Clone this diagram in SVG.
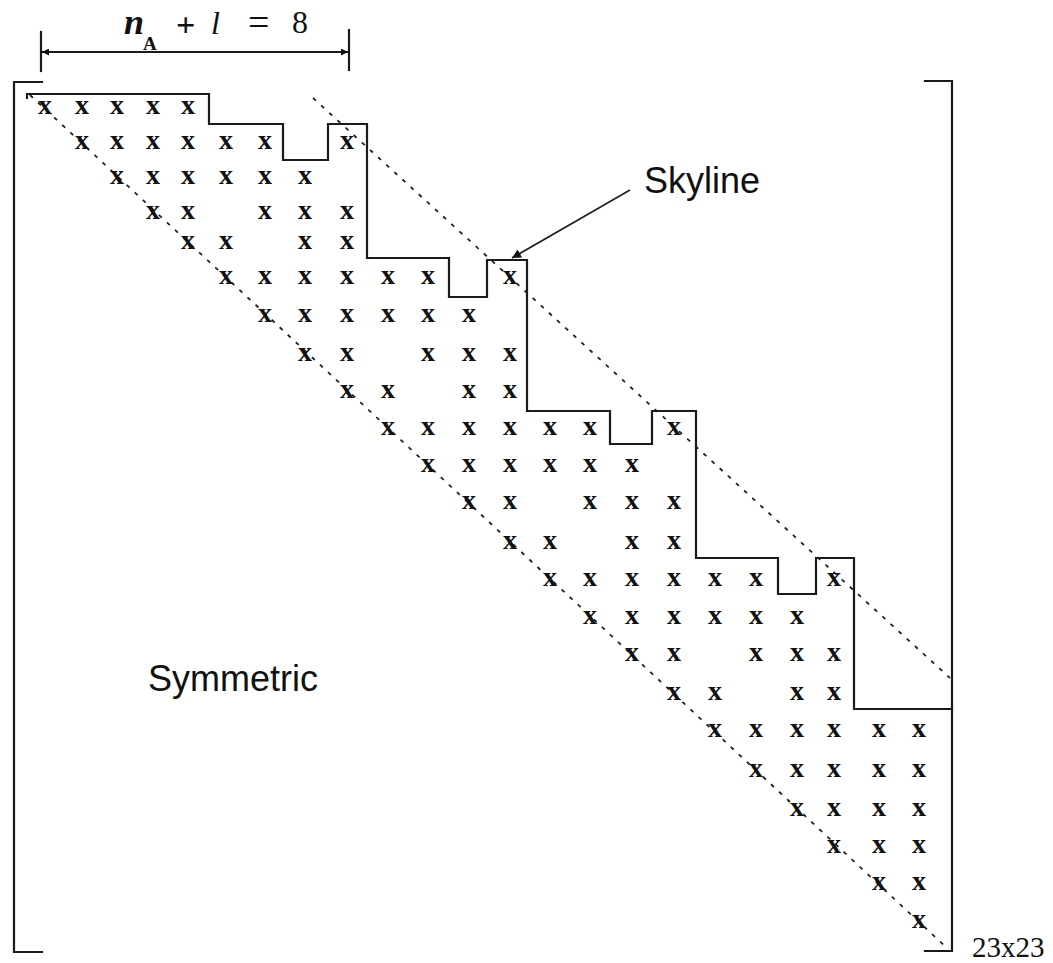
<svg xmlns="http://www.w3.org/2000/svg" width="1053" height="963" viewBox="0 0 1053 963">
<style>
.ln{fill:none;stroke:#1a1a1a;stroke-width:2.2;stroke-linecap:square}
.dash{fill:none;stroke:#222;stroke-width:1.8;stroke-dasharray:4 7}
.x{font-family:"Liberation Serif",serif;font-weight:bold;font-size:28px;fill:#111;text-anchor:middle}
.sans{font-family:"Liberation Sans",Arial,sans-serif;font-size:36px;fill:#111}
.ser{font-family:"Liberation Serif",serif;fill:#111}
</style>
<defs>
<marker id="ah" viewBox="0 0 10 10" refX="10" refY="5" markerWidth="8" markerHeight="7" orient="auto-start-reverse" markerUnits="userSpaceOnUse">
<path d="M0,0 L10,5 L0,10 z" fill="#111"/>
</marker>
<marker id="ah2" viewBox="0 0 10 10" refX="10" refY="5" markerWidth="12" markerHeight="9" orient="auto" markerUnits="userSpaceOnUse">
<path d="M0,0 L10,5 L0,10 z" fill="#111"/>
</marker>
</defs>
<rect width="1053" height="963" fill="#fff"/>
<g id="dimension">
<line class="ln" x1="41" y1="32" x2="41" y2="71"/>
<line class="ln" x1="349" y1="30" x2="349" y2="70"/>
<line class="ln" x1="42" y1="52" x2="348" y2="52" marker-start="url(#ah)" marker-end="url(#ah)"/>
<text class="ser" x="124" y="34" style="font-size:36px;font-style:italic;font-weight:bold">n</text>
<text class="ser" x="143" y="50" style="font-size:19px;font-weight:bold">A</text>
<text class="ser" x="176" y="36" style="font-size:34px;font-weight:bold">+</text>
<text class="ser" x="211" y="34" style="font-size:32px;font-style:italic">l</text>
<text class="ser" x="248" y="35" style="font-size:38px">=</text>
<text class="ser" x="292" y="33" style="font-size:32px">8</text>
</g>
<g id="brackets">
<path class="ln" d="M42,82 L14,82 L14,952 L42,952"/>
<path class="ln" d="M925,81 L952,81 L952,951 L925,951"/>
</g>
<g id="diagonals">
<line class="dash" x1="30" y1="95" x2="947" y2="948"/>
<line class="dash" x1="313" y1="98" x2="950" y2="678"/>
</g>
<g id="skyline">
<path class="ln" d="M27,98 L27,94 L209,94 L209,124 L283,124 L283,160 L328,160 L328,124 L367,124 L367,258 L449,258 L449,297 L487,297 L487,260 L527,260 L527,411 L610,411 L610,444 L652,444 L652,411 L696,411 L696,558 L778,558 L778,594 L816,594 L816,558 L854,558 L854,709 L952,709"/>
</g>
<g id="entries">
<text class="x" x="45" y="114">x</text><text class="x" x="82" y="114">x</text><text class="x" x="117" y="114">x</text><text class="x" x="153" y="114">x</text><text class="x" x="188" y="114">x</text>
<text class="x" x="82" y="149">x</text><text class="x" x="117" y="149">x</text><text class="x" x="153" y="149">x</text><text class="x" x="188" y="149">x</text><text class="x" x="226" y="149">x</text><text class="x" x="265" y="149">x</text><text class="x" x="347" y="149">x</text>
<text class="x" x="117" y="184">x</text><text class="x" x="153" y="184">x</text><text class="x" x="188" y="184">x</text><text class="x" x="226" y="184">x</text><text class="x" x="265" y="184">x</text><text class="x" x="305" y="184">x</text>
<text class="x" x="153" y="219">x</text><text class="x" x="188" y="219">x</text><text class="x" x="265" y="219">x</text><text class="x" x="305" y="219">x</text><text class="x" x="347" y="219">x</text>
<text class="x" x="188" y="249">x</text><text class="x" x="226" y="249">x</text><text class="x" x="305" y="249">x</text><text class="x" x="347" y="249">x</text>
<text class="x" x="226" y="284">x</text><text class="x" x="265" y="284">x</text><text class="x" x="305" y="284">x</text><text class="x" x="347" y="284">x</text><text class="x" x="388" y="284">x</text><text class="x" x="428" y="284">x</text><text class="x" x="510" y="284">x</text>
<text class="x" x="265" y="322">x</text><text class="x" x="305" y="322">x</text><text class="x" x="347" y="322">x</text><text class="x" x="388" y="322">x</text><text class="x" x="428" y="322">x</text><text class="x" x="469" y="322">x</text>
<text class="x" x="305" y="361">x</text><text class="x" x="347" y="361">x</text><text class="x" x="428" y="361">x</text><text class="x" x="469" y="361">x</text><text class="x" x="510" y="361">x</text>
<text class="x" x="347" y="398">x</text><text class="x" x="388" y="398">x</text><text class="x" x="469" y="398">x</text><text class="x" x="510" y="398">x</text>
<text class="x" x="388" y="435">x</text><text class="x" x="428" y="435">x</text><text class="x" x="469" y="435">x</text><text class="x" x="510" y="435">x</text><text class="x" x="550" y="435">x</text><text class="x" x="590" y="435">x</text><text class="x" x="674" y="435">x</text>
<text class="x" x="428" y="472">x</text><text class="x" x="469" y="472">x</text><text class="x" x="510" y="472">x</text><text class="x" x="550" y="472">x</text><text class="x" x="590" y="472">x</text><text class="x" x="632" y="472">x</text>
<text class="x" x="469" y="509">x</text><text class="x" x="510" y="509">x</text><text class="x" x="590" y="509">x</text><text class="x" x="632" y="509">x</text><text class="x" x="674" y="509">x</text>
<text class="x" x="510" y="549">x</text><text class="x" x="550" y="549">x</text><text class="x" x="632" y="549">x</text><text class="x" x="674" y="549">x</text>
<text class="x" x="550" y="586">x</text><text class="x" x="590" y="586">x</text><text class="x" x="632" y="586">x</text><text class="x" x="674" y="586">x</text><text class="x" x="715" y="586">x</text><text class="x" x="756" y="586">x</text><text class="x" x="834" y="586">x</text>
<text class="x" x="590" y="624">x</text><text class="x" x="632" y="624">x</text><text class="x" x="674" y="624">x</text><text class="x" x="715" y="624">x</text><text class="x" x="756" y="624">x</text><text class="x" x="797" y="624">x</text>
<text class="x" x="632" y="661">x</text><text class="x" x="674" y="661">x</text><text class="x" x="756" y="661">x</text><text class="x" x="797" y="661">x</text><text class="x" x="834" y="661">x</text>
<text class="x" x="674" y="700">x</text><text class="x" x="715" y="700">x</text><text class="x" x="797" y="700">x</text><text class="x" x="834" y="700">x</text>
<text class="x" x="715" y="737">x</text><text class="x" x="756" y="737">x</text><text class="x" x="797" y="737">x</text><text class="x" x="834" y="737">x</text><text class="x" x="879" y="737">x</text><text class="x" x="919" y="737">x</text>
<text class="x" x="756" y="777">x</text><text class="x" x="797" y="777">x</text><text class="x" x="834" y="777">x</text><text class="x" x="879" y="777">x</text><text class="x" x="919" y="777">x</text>
<text class="x" x="797" y="816">x</text><text class="x" x="834" y="816">x</text><text class="x" x="879" y="816">x</text><text class="x" x="919" y="816">x</text>
<text class="x" x="834" y="853">x</text><text class="x" x="879" y="853">x</text><text class="x" x="919" y="853">x</text>
<text class="x" x="879" y="890">x</text><text class="x" x="919" y="890">x</text>
<text class="x" x="919" y="928">x</text>
</g>
<g id="connectors">
<line x1="630" y1="190" x2="512" y2="258" stroke="#222" stroke-width="1.8" marker-end="url(#ah2)"/>
</g>
<g id="label-skyline"><text class="sans" x="644" y="193">Skyline</text></g>
<g id="label-symmetric"><text class="sans" x="148" y="691">Symmetric</text></g>
<g id="label-size"><text class="ser" x="972" y="957" style="font-size:29px">23x23</text></g>
</svg>
